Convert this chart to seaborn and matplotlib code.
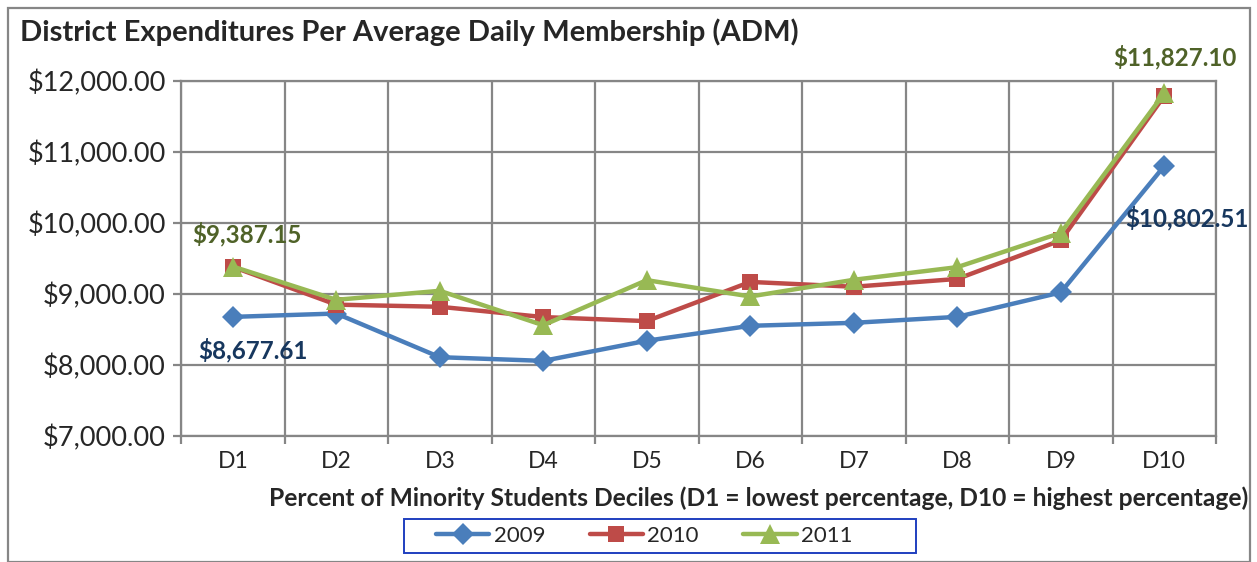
import numpy as np
import pandas as pd
import seaborn as sns
import matplotlib.pyplot as plt
from matplotlib.patches import Rectangle
from matplotlib.ticker import FuncFormatter, FixedLocator

deciles = ["D1", "D2", "D3", "D4", "D5", "D6", "D7", "D8", "D9", "D10"]
exp_2009 = [8677.61, 8725, 8110, 8058, 8342, 8552, 8594, 8678, 9022, 10802.51]
exp_2010 = [9382, 8850, 8820, 8675, 8618, 9170, 9102, 9212, 9755, 11790]
exp_2011 = [9387.15, 8918, 9045, 8560, 9195, 8965, 9200, 9378, 9860, 11827.10]
years = ["2009", "2010", "2011"]

COLORS = {"2009": "#4a7ebb", "2010": "#be4b48", "2011": "#98b954"}
MARKERS = {"2009": "D", "2010": "s", "2011": "^"}
MSIZE = {"2009": 11, "2010": 12, "2011": 14}

df = pd.DataFrame({"decile": deciles, "2009": exp_2009, "2010": exp_2010, "2011": exp_2011})
df["pos"] = np.arange(len(deciles))
long_df = df.melt(id_vars=["decile", "pos"], value_vars=years, var_name="year", value_name="exp")

sns.set_style("white")
plt.rcParams["font.family"] = ["Lato", "DejaVu Sans"]

fig = plt.figure(figsize=(12.57, 5.62), dpi=100)
ax = fig.add_axes([0.144, 0.2242, 0.8234, 0.6317])

for yr in years:
    sub = long_df[long_df["year"] == yr]
    sns.lineplot(data=sub, x="pos", y="exp", ax=ax, color=COLORS[yr], linewidth=3.2,
                 marker=MARKERS[yr], markersize=MSIZE[yr], markeredgewidth=0,
                 label=yr, legend=False, zorder=3)

ax.set_xlim(-0.5, len(deciles) - 0.5)
ax.set_ylim(7000, 12000)
ax.set_yticks(np.arange(7000, 12001, 1000))
ax.yaxis.set_major_formatter(FuncFormatter(lambda v, p: f"${v:,.2f}"))
ax.set_xticks(df["pos"])
ax.set_xticklabels(deciles)
ax.xaxis.set_minor_locator(FixedLocator(np.arange(-0.5, len(deciles), 1.0)))

ax.grid(False)
ax.yaxis.grid(True, color="#868686", linewidth=1.6)
ax.xaxis.grid(True, which="minor", color="#868686", linewidth=1.6)
for s in ax.spines.values():
    s.set_color("#868686")
    s.set_linewidth(1.6)
ax.tick_params(axis="y", which="major", length=6, width=1.6, color="#868686",
               labelsize=19.5, pad=5, left=True)
ax.tick_params(axis="x", which="major", length=0, labelsize=16.5, pad=11)
ax.tick_params(axis="x", which="minor", length=6, width=1.6, color="#868686", bottom=True)

ax.set_ylabel("")
ax.set_xlabel("")
fig.text(0.993, 0.113, "Percent of Minority Students Deciles (D1 = lowest percentage, D10 = highest percentage)",
         ha="right", va="center", fontsize=17.7, fontweight="bold")
fig.text(0.016, 0.943, "District Expenditures Per Average Daily Membership (ADM)",
         ha="left", va="center", fontsize=21, fontweight="bold")

# data labels
green_dark = "#4f6228"
navy = "#17375e"
lab_kw = dict(textcoords="offset points", ha="center", va="center", fontsize=17.4, fontweight="bold")
ax.annotate(f"${exp_2011[0]:,.2f}", (0, exp_2011[0]), xytext=(10, 23.4), color=green_dark, **lab_kw)
ax.annotate(f"${exp_2009[0]:,.2f}", (0, exp_2009[0]), xytext=(14.4, -23.8), color=navy, **lab_kw)
ax.annotate(f"${exp_2011[-1]:,.2f}", (9, exp_2011[-1]), xytext=(8, 26), color=green_dark, **lab_kw)
ax.annotate(f"${exp_2009[-1]:,.2f}", (9, exp_2009[-1]), xytext=(16.6, -37.4), color=navy, **lab_kw)

# legend entries without frame, Excel-style box drawn separately
handles, labels = ax.get_legend_handles_labels()
fig.legend(handles, labels, loc="center", bbox_to_anchor=(0.5125, 0.0463), ncol=3,
           fontsize=16, frameon=False, handlelength=2.4, columnspacing=2.0,
           borderpad=0.3, handletextpad=0.2)
fig.add_artist(Rectangle((404 / 1257, 1 - 553 / 562), 512 / 1257, 34 / 562, transform=fig.transFigure,
                         fill=False, edgecolor="#1f3fbf", linewidth=1.4))

fig.add_artist(Rectangle((0.0064, 0.0), 0.988, 0.9858, transform=fig.transFigure,
                         fill=False, edgecolor="#868686", linewidth=1.6))

fig.savefig("out.png", dpi=100)
